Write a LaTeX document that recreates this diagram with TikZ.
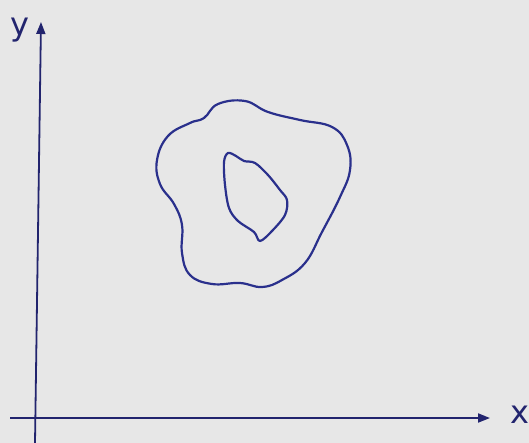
\documentclass[tikz,border=0pt]{standalone}
\usepackage{fontspec}
\setmainfont{DejaVu Sans}
\usetikzlibrary{arrows.meta}
\definecolor{paper}{RGB}{231,231,231}
\definecolor{ink}{RGB}{42,48,140}
\definecolor{axisink}{RGB}{34,36,110}
\tikzset{
  curve/.style={draw=ink, line width=2.2pt, line join=round},
  axisline/.style={draw=axisink, line width=1.8pt, -{Triangle[length=12pt,width=9pt]}},
  axlabel/.style={text=axisink, font=\fontsize{32}{32}\selectfont, inner sep=0pt}
}
\begin{document}
\begin{tikzpicture}[x=1pt,y=-1pt]
\fill[paper] (0,0) rectangle (529,443);
\useasboundingbox (0,0) rectangle (529,443);
\coordinate (yb) at (35,443);
\coordinate (yt) at (41,22);
\coordinate (xl) at (10,418);
\coordinate (xr) at (490,418);
\draw[axisline] (yb) -- (yt);
\draw[axisline] (xl) -- (xr);
\node[axlabel] (ylab) at (20,30) {y};
\node[axlabel] (xlab) at (520,415) {x};
% outer closed curve
\draw[curve] plot[smooth cycle, tension=0.7] coordinates {
 (218,104) (245,101) (268,112) (300,120) (332,127) (347,145)
 (350,170) (340,197) (322,232) (305,263) (282,280) (262,287)
 (240,283) (212,284) (190,275) (182,253) (182,225) (174,204)
 (160,184) (157,160) (168,136) (190,123) (204,118)};
% inner closed curve
\draw[curve] plot[smooth cycle, tension=0.55] coordinates {
 (228,153) (236,156) (244,161) (255,163) (268,175) (280,190) (287,200)
 (285,215) (272,231) (260,241) (254,232) (238,221) (229,208) (225,185)
 (224,162)};
\end{tikzpicture}
\end{document}
